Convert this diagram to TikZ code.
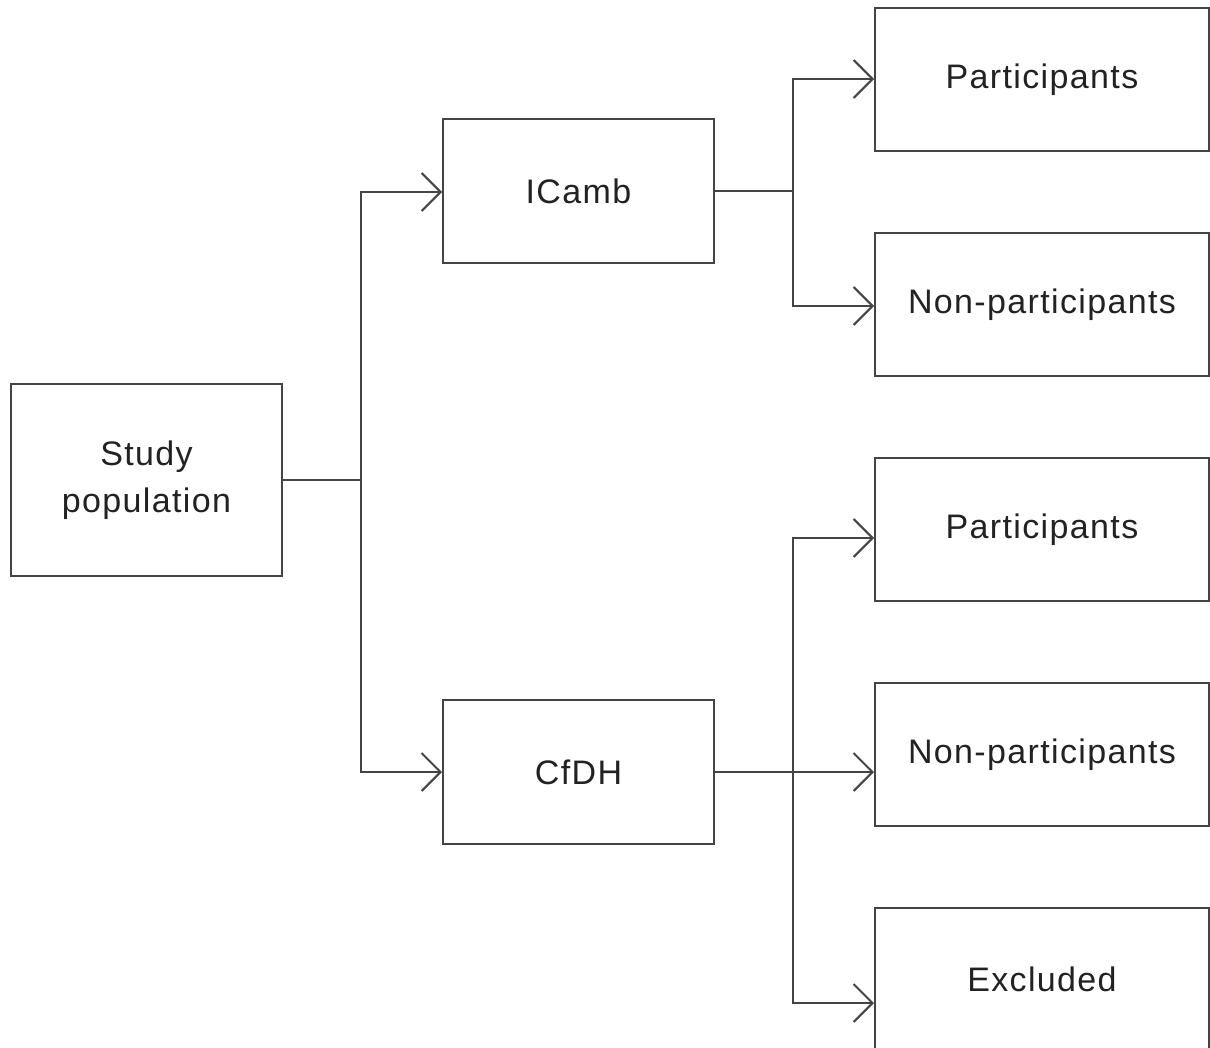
\documentclass[tikz,border=0pt]{standalone}
\usepackage{fontspec}
\setmainfont[LetterSpace=4]{Liberation Sans}
\usetikzlibrary{arrows.meta}
\definecolor{ln}{HTML}{444444}
\definecolor{tx}{HTML}{222222}
\begin{document}
\begin{tikzpicture}[x=1pt,y=-1pt,
  box/.style={draw=ln,line width=2pt,fill=white,inner sep=0pt,align=center,
    text=tx,font=\fontsize{34}{47}\selectfont},
  lbox/.style={box,minimum width=271pt,minimum height=144pt},
  rbox/.style={box,minimum width=334pt,minimum height=143pt},
  conn/.style={draw=ln,line width=2pt},
  arr/.style={conn,-{Straight Barb[length=19pt,width=38pt,line width=2pt]}}]
\clip (0,0) rectangle (1210,1047);
\fill[white] (0,0) rectangle (1210,1047);
\node[lbox,minimum height=192pt] (study) at (146.5,480) {Study\\population};
\node[lbox] (icamb) at (578.5,191) {ICamb};
\node[lbox] (cfdh) at (578.5,772) {CfDH};
\node[rbox] (p1) at (1042,79.5) {Participants};
\node[rbox] (n1) at (1042,304.5) {Non-participants};
\node[rbox] (p2) at (1042,529.5) {Participants};
\node[rbox] (n2) at (1042,754.5) {Non-participants};
\node[rbox] (ex) at (1042,979.5) {Excluded};
\coordinate (j1) at (361,480);
\coordinate (j2) at (793,191);
\coordinate (j3) at (793,772);
\draw[conn] (study.east |- j1) -- (j1);
\draw[arr] (j1) |- ([yshift=-1pt]icamb.west);
\draw[arr] (j1) |- (cfdh.west);
\draw[conn] (icamb.east |- j2) -- (j2);
\draw[arr] (j2) |- ([yshift=0.5pt]p1.west);
\draw[arr] (j2) |- ([yshift=-1.5pt]n1.west);
\draw[arr] (cfdh.east) -- ([yshift=-17.5pt]n2.west);
\draw[arr] (j3) |- ([yshift=-8.5pt]p2.west);
\draw[arr] (j3) |- ([yshift=-23.5pt]ex.west);
\end{tikzpicture}
\end{document}
